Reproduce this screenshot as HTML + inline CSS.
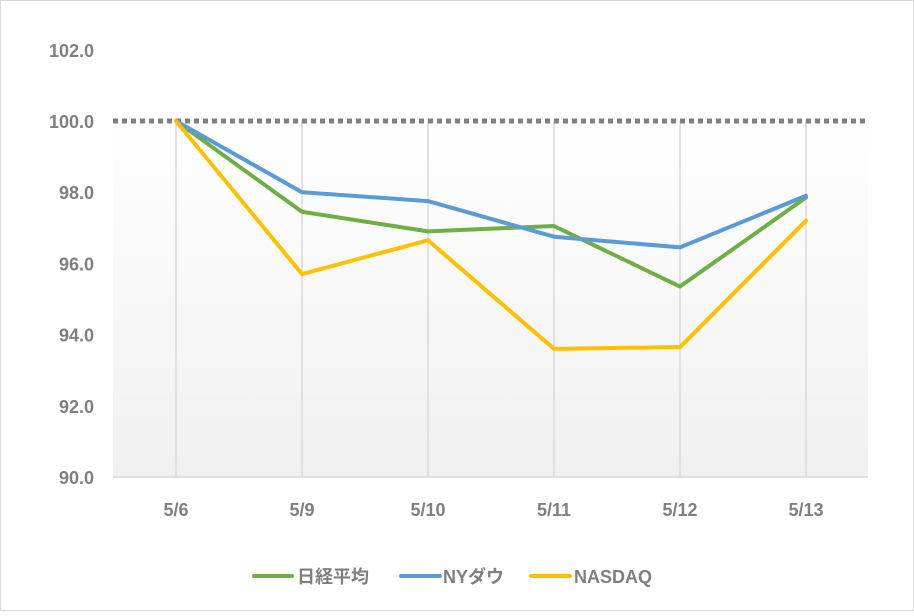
<!DOCTYPE html>
<html><head><meta charset="utf-8"><style>
body{margin:0;background:#fff;}
svg text{font-family:"Liberation Sans","Noto Sans CJK JP",sans-serif;font-weight:bold;fill:#7f7f7f;font-size:18px;}
</style></head><body>
<svg id="chart" width="914" height="611">
<defs><linearGradient id="bg" x1="0" y1="0" x2="0" y2="1"><stop offset="0" stop-color="#ffffff"/><stop offset="1" stop-color="#f0f0f0"/></linearGradient></defs>
<rect x="0.5" y="0.5" width="913" height="610" fill="#fff" stroke="#d9d9d9"/>
<rect x="113" y="121" width="755" height="356" fill="url(#bg)"/>
<g id="grid"></g><g id="axes"></g><g id="lines"></g>
<g>
<line x1="254" y1="576" x2="292" y2="576" stroke="#70ad47" stroke-width="4" stroke-linecap="round"/>
<text x="297" y="583">日経平均</text>
<line x1="401" y1="576" x2="440" y2="576" stroke="#5b9bd5" stroke-width="4" stroke-linecap="round"/>
<text x="443" y="583">NYダウ</text>
<line x1="531" y1="576" x2="570" y2="576" stroke="#ffc000" stroke-width="4" stroke-linecap="round"/>
<text x="574" y="583">NASDAQ</text>
</g>
</svg>
<script>
const categories=["5/6","5/9","5/10","5/11","5/12","5/13"];
const nikkei=[100,97.45,96.9,97.05,95.35,97.85];
const nydow=[100,98.0,97.75,96.75,96.45,97.9];
const nasdaq=[100,95.7,96.65,93.6,93.65,97.2];
const yTicks=[90,92,94,96,98,100,102];
const baseline=100;
const NS="http://www.w3.org/2000/svg";
const x=i=>176+i*126;
const y=v=>477-(v-90)*35.6;
function mk(tag,attrs,parent){const e=document.createElementNS(NS,tag);for(const k in attrs)e.setAttribute(k,attrs[k]);parent.appendChild(e);return e;}
const grid=document.getElementById('grid'),axes=document.getElementById('axes'),lines=document.getElementById('lines');
categories.forEach((c,i)=>{
 const g=mk('line',{x1:x(i),x2:x(i),y1:y(100),y2:477,stroke:'#d9d9d9','stroke-width':1.5},grid);
 
 
 const t=mk('text',{x:x(i),y:516,'text-anchor':'middle'},axes);t.textContent=c;
 
 
});
yTicks.forEach(v=>{
 const t=mk('text',{x:94,y:y(v)+7,'text-anchor':'end'},axes);t.textContent=v.toFixed(1);
 
 
});
const ax=mk('line',{x1:113,x2:868,y1:477,y2:477,stroke:'#d9d9d9','stroke-width':1.5},axes);


const bl=mk('line',{x1:113,x2:868,y1:y(baseline),y2:y(baseline),stroke:'#808080','stroke-width':5,'stroke-dasharray':'5 4'},lines);


[[nikkei,'#70ad47','nikkei'],[nydow,'#5b9bd5','nydow'],[nasdaq,'#ffc000','nasdaq']].forEach(([d,c,n])=>{
 const p=mk('polyline',{points:d.map((v,i)=>x(i)+','+y(v)).join(' '),fill:'none',stroke:c,'stroke-width':4,'stroke-linejoin':'round','stroke-linecap':'round'},lines);
 
 
});
</script>
</body></html>
